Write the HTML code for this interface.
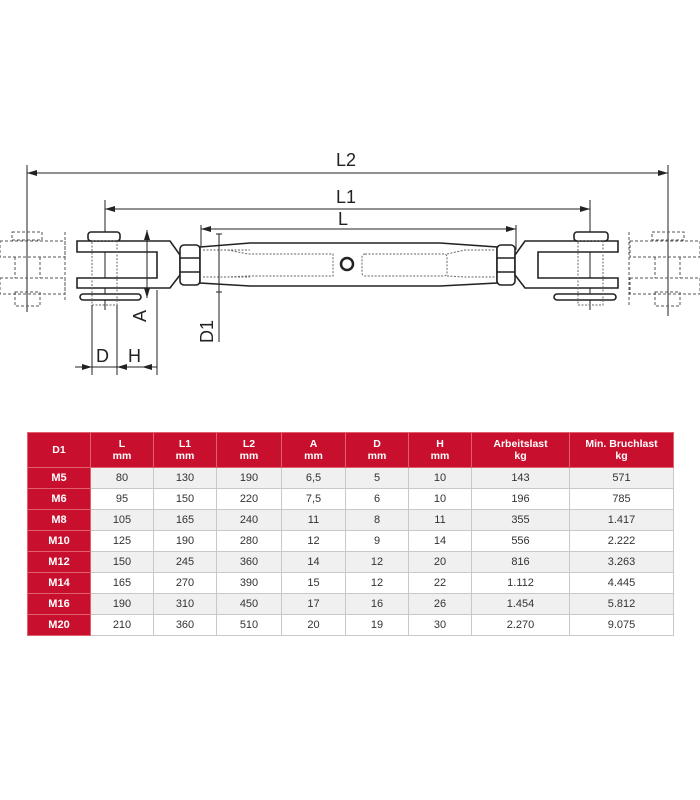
<!DOCTYPE html>
<html><head><meta charset="utf-8"><style>
body{margin:0;background:#fff;width:700px;height:800px;overflow:hidden;font-family:"Liberation Sans",sans-serif}
table{position:absolute;left:27px;top:432px;border-collapse:collapse;font-size:11px;color:#333}
td,th{border:1px solid #c8c8c8;text-align:center;padding:0;height:20px}
th{background:#c8102e;color:#fff;font-weight:bold;height:34px;line-height:12px;font-size:10.5px;border-color:#e06070}
td.h{background:#c8102e;color:#fff;font-weight:bold;border-color:#e06070}
tr:nth-child(even) td{background:#f0f0f0}
tr:nth-child(even) td.h{background:#c8102e}
</style></head><body>
<svg width="700" height="420" style="position:absolute;left:0;top:0" font-family="Liberation Sans, sans-serif">
<defs><marker id="a" markerWidth="10" markerHeight="6" refX="10" refY="3" orient="auto-start-reverse" markerUnits="userSpaceOnUse"><path d="M0,0L10,3L0,6z" fill="#222"/></marker></defs>
<g stroke="#222" stroke-width="1" fill="none">
<!-- extension lines -->
<line x1="27" y1="165" x2="27" y2="312"/><line x1="668" y1="165" x2="668" y2="316"/>
<line x1="105" y1="200" x2="105" y2="310"/><line x1="590" y1="200" x2="590" y2="310"/>
<line x1="201" y1="225" x2="201" y2="250"/><line x1="516" y1="225" x2="516" y2="250"/>
<!-- dims -->
<line x1="27" y1="173" x2="668" y2="173" marker-start="url(#a)" marker-end="url(#a)"/>
<line x1="105" y1="209" x2="590" y2="209" marker-start="url(#a)" marker-end="url(#a)"/>
<line x1="201" y1="229" x2="516" y2="229" marker-start="url(#a)" marker-end="url(#a)"/>
<!-- left ghost -->
<g stroke-dasharray="3,2" stroke="#555">
<rect x="12" y="232" width="30" height="8"/><rect x="0" y="241" width="65" height="16"/><rect x="0" y="278" width="65" height="16"/>
<line x1="15" y1="257" x2="15" y2="278"/><line x1="40" y1="257" x2="40" y2="278"/>
<rect x="15" y="292" width="25" height="14"/><line x1="65" y1="232" x2="65" y2="302"/>
</g>
<!-- right ghost -->
<g stroke-dasharray="3,2" stroke="#555">
<rect x="652" y="232" width="32" height="8"/><rect x="630" y="241" width="70" height="16"/><rect x="630" y="278" width="70" height="16"/>
<line x1="655" y1="257" x2="655" y2="278"/><line x1="680" y1="257" x2="680" y2="278"/>
<rect x="655" y="292" width="25" height="14"/><line x1="629" y1="232" x2="629" y2="305"/>
</g>
<!-- left clevis -->
<g stroke-width="1.6">
<path d="M77,241H170L180,255V275L170,288H77V278H157V252H77Z" fill="#fff"/>
<rect x="88" y="232" width="32" height="9" rx="3" fill="#fff"/>
<rect x="80" y="294" width="61" height="6" rx="3" fill="#fff"/>
<rect x="180" y="245" width="20" height="40" rx="4" fill="#fff"/>
<line x1="180" y1="258" x2="200" y2="258"/><line x1="180" y1="272" x2="200" y2="272"/>
<path d="M200,247L250,243H440L497,247V283L440,286H250L200,283Z" fill="#fff"/>
<rect x="497" y="245" width="18" height="40" rx="4" fill="#fff"/>
<line x1="497" y1="258" x2="515" y2="258"/><line x1="497" y1="272" x2="515" y2="272"/>
<path d="M618,241H525L515,255V275L525,288H618V278H538V252H618Z" fill="#fff"/>
<rect x="574" y="232" width="34" height="9" rx="3" fill="#fff"/>
<rect x="554" y="294" width="62" height="6" rx="3" fill="#fff"/>
<circle cx="347" cy="264" r="6" stroke-width="2.5"/>
</g>
<g stroke-dasharray="2,1.5" stroke="#666">
<rect x="92" y="241" width="25" height="64"/><rect x="578" y="241" width="25" height="64"/>
<line x1="203" y1="250" x2="250" y2="250"/><line x1="203" y1="277" x2="250" y2="277"/>
<path d="M228,250L248,254H333V276H248L228,277"/>
<rect x="362" y="254" width="85" height="22" rx="3"/>
<path d="M447,254L465,250H495M447,276L465,277H495"/>
</g>
<!-- A, D1 -->
<line x1="147" y1="230" x2="147" y2="298" marker-start="url(#a)" marker-end="url(#a)" transform="translate(0,0)"/>
<line x1="157" y1="290" x2="157" y2="375"/><line x1="92" y1="305" x2="92" y2="375"/><line x1="117" y1="305" x2="117" y2="375"/>
<line x1="219" y1="234" x2="219" y2="342"/>
<path d="M216,234h6M216,292h6"/>
<line x1="75" y1="367" x2="92" y2="367" marker-end="url(#a)"/>
<line x1="92" y1="367" x2="157" y2="367"/>
<line x1="157" y1="367" x2="142" y2="367" marker-end="url(#a)"/>
<line x1="117" y1="367" x2="130" y2="367" marker-start="url(#a)"/>
</g>
<g font-size="18" fill="#222">
<text x="336" y="166">L2</text><text x="336" y="203">L1</text><text x="338" y="225">L</text>
<text x="96" y="362">D</text><text x="128" y="362">H</text>
<text transform="translate(146,322) rotate(-90)">A</text>
<text transform="translate(213,343) rotate(-90)">D1</text>
</g>
</svg>
<table>
<tr><th style="width:62px">D1</th><th style="width:62px">L<br>mm</th><th style="width:62px">L1<br>mm</th><th style="width:64px">L2<br>mm</th><th style="width:63px">A<br>mm</th><th style="width:62px">D<br>mm</th><th style="width:62px">H<br>mm</th><th style="width:97px">Arbeitslast<br>kg</th><th style="width:103px">Min. Bruchlast<br>kg</th></tr>
<tr><td class="h">M5</td><td>80</td><td>130</td><td>190</td><td>6,5</td><td>5</td><td>10</td><td>143</td><td>571</td></tr>
<tr><td class="h">M6</td><td>95</td><td>150</td><td>220</td><td>7,5</td><td>6</td><td>10</td><td>196</td><td>785</td></tr>
<tr><td class="h">M8</td><td>105</td><td>165</td><td>240</td><td>11</td><td>8</td><td>11</td><td>355</td><td>1.417</td></tr>
<tr><td class="h">M10</td><td>125</td><td>190</td><td>280</td><td>12</td><td>9</td><td>14</td><td>556</td><td>2.222</td></tr>
<tr><td class="h">M12</td><td>150</td><td>245</td><td>360</td><td>14</td><td>12</td><td>20</td><td>816</td><td>3.263</td></tr>
<tr><td class="h">M14</td><td>165</td><td>270</td><td>390</td><td>15</td><td>12</td><td>22</td><td>1.112</td><td>4.445</td></tr>
<tr><td class="h">M16</td><td>190</td><td>310</td><td>450</td><td>17</td><td>16</td><td>26</td><td>1.454</td><td>5.812</td></tr>
<tr><td class="h">M20</td><td>210</td><td>360</td><td>510</td><td>20</td><td>19</td><td>30</td><td>2.270</td><td>9.075</td></tr>
</table>
</body></html>
